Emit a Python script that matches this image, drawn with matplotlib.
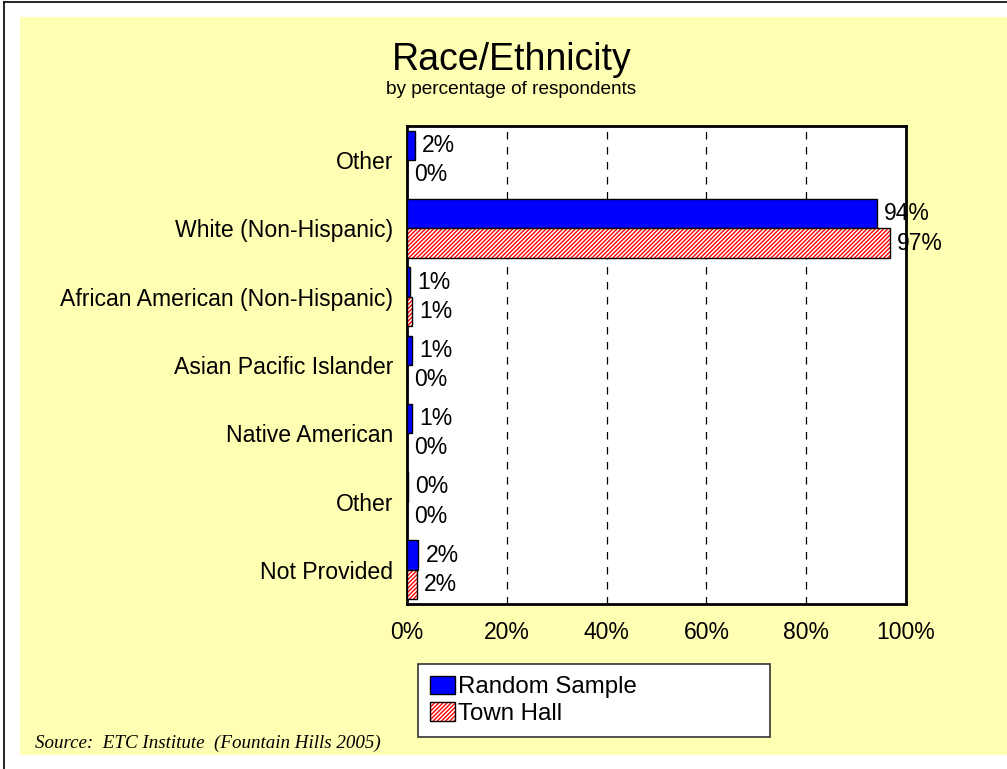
"""Horizontal grouped bar chart of respondent race/ethnicity."""

import matplotlib.pyplot as plt
from matplotlib.lines import Line2D
from matplotlib.patches import Patch, Rectangle
import numpy as np

categories = [
    "Other",
    "White (Non-Hispanic)",
    "African American (Non-Hispanic)",
    "Asian Pacific Islander",
    "Native American",
    "Other",
    "Not Provided",
]
random_sample = [1.6, 94.2, 0.6, 1.0, 1.0, 0.2, 2.3]
town_hall = [0.0, 96.8, 1.0, 0.0, 0.0, 0.0, 2.0]
x_ticks = [0, 20, 40, 60, 80, 100]

plt.rcParams["font.family"] = ["Liberation Sans", "DejaVu Sans"]
plt.rcParams["hatch.linewidth"] = 1.0

BACKGROUND = "#FFFFB3"
BAR_HEIGHT = 0.43
OFFSET = 0.215
HATCH = "////////"

figure = plt.figure(figsize=(10.07, 7.69), dpi=100)
figure.patch.set_facecolor("white")

# pale yellow panel and the thin frame on the top and left edges
figure.add_artist(Rectangle((20 / 1007, 14 / 769), 1 - 20 / 1007, 738 / 769,
                            transform=figure.transFigure, facecolor=BACKGROUND,
                            edgecolor="none", zorder=-10))
figure.add_artist(Line2D([4 / 1007, 1], [1 - 2 / 769, 1 - 2 / 769],
                         transform=figure.transFigure, color="black", lw=1.2))
figure.add_artist(Line2D([4 / 1007, 4 / 1007], [0, 1 - 2 / 769],
                         transform=figure.transFigure, color="black", lw=1.2))

axis = figure.add_axes([407 / 1007, 1 - 604 / 769, 499 / 1007, 478 / 769])
axis.set_facecolor("white")

rows = np.arange(len(categories))
axis.barh(rows - OFFSET, random_sample, height=BAR_HEIGHT, color="#0000FF",
          edgecolor="black", linewidth=1.0, zorder=3)
axis.barh(rows + OFFSET, town_hall, height=BAR_HEIGHT, color="white",
          edgecolor="#FF0000", hatch=HATCH, linewidth=0, zorder=3)
axis.barh(rows + OFFSET, town_hall, height=BAR_HEIGHT, fill=False,
          edgecolor="black", linewidth=1.0, zorder=4)

for row, value in enumerate(random_sample):
    axis.annotate(f"{value:.0f}%", (value, row - OFFSET), xytext=(5, 0),
                  textcoords="offset points", ha="left", va="center",
                  fontsize=16.5, zorder=5, annotation_clip=False)
for row, value in enumerate(town_hall):
    axis.annotate(f"{value:.0f}%", (value, row + OFFSET), xytext=(5, 0),
                  textcoords="offset points", ha="left", va="center",
                  fontsize=16.5, zorder=5, annotation_clip=False)

axis.set_xlim(0, 100)
axis.set_ylim(len(categories) - 0.5, -0.5)
axis.set_xticks(x_ticks)
axis.set_xticklabels([f"{tick}%" for tick in x_ticks], fontsize=16.5)
axis.set_yticks(rows)
axis.set_yticklabels(categories, fontsize=16.6)
axis.tick_params(axis="x", length=0, pad=12)
axis.tick_params(axis="y", length=0, pad=10)
for tick in x_ticks[1:-1]:
    axis.axvline(tick, color="black", linestyle=(0, (6, 6)), linewidth=0.9,
                 zorder=1)
for spine in axis.spines.values():
    spine.set_linewidth(2)
    spine.set_color("black")

figure.text(0.508, 1 - 60 / 769, "Race/Ethnicity", ha="center", va="center",
            fontsize=27)
figure.text(0.508, 1 - 89 / 769, "by percentage of respondents", ha="center",
            va="center", fontsize=13.7)

legend_handles = [
    Patch(facecolor="#0000FF", edgecolor="black", linewidth=1.0),
    (Patch(facecolor="white", edgecolor="#FF0000", hatch=HATCH, linewidth=0),
     Patch(fill=False, edgecolor="black", linewidth=1.0)),
]
legend = figure.legend(legend_handles, ["Random Sample", "Town Hall"],
                       loc="lower left", mode="expand",
                       bbox_to_anchor=(418 / 1007, 1 - 737 / 769,
                                       352 / 1007, 72 / 769),
                       fontsize=17.3, frameon=True, fancybox=False,
                       handlelength=1.05, handleheight=0.8, handletextpad=0.1,
                       borderpad=0.5, labelspacing=0.18, borderaxespad=0)
legend.get_frame().set_edgecolor("#333333")
legend.get_frame().set_linewidth(1.2)
legend.get_frame().set_facecolor("white")
legend.get_frame().set_alpha(1)

figure.text(35 / 1007, 1 - 743 / 769, "Source:  ETC Institute  (Fountain Hills 2005)",
            ha="left", va="center", fontsize=13.7, style="italic",
            family=["Liberation Serif", "DejaVu Serif"])

figure.savefig("out.png", dpi=100, facecolor=figure.get_facecolor())
